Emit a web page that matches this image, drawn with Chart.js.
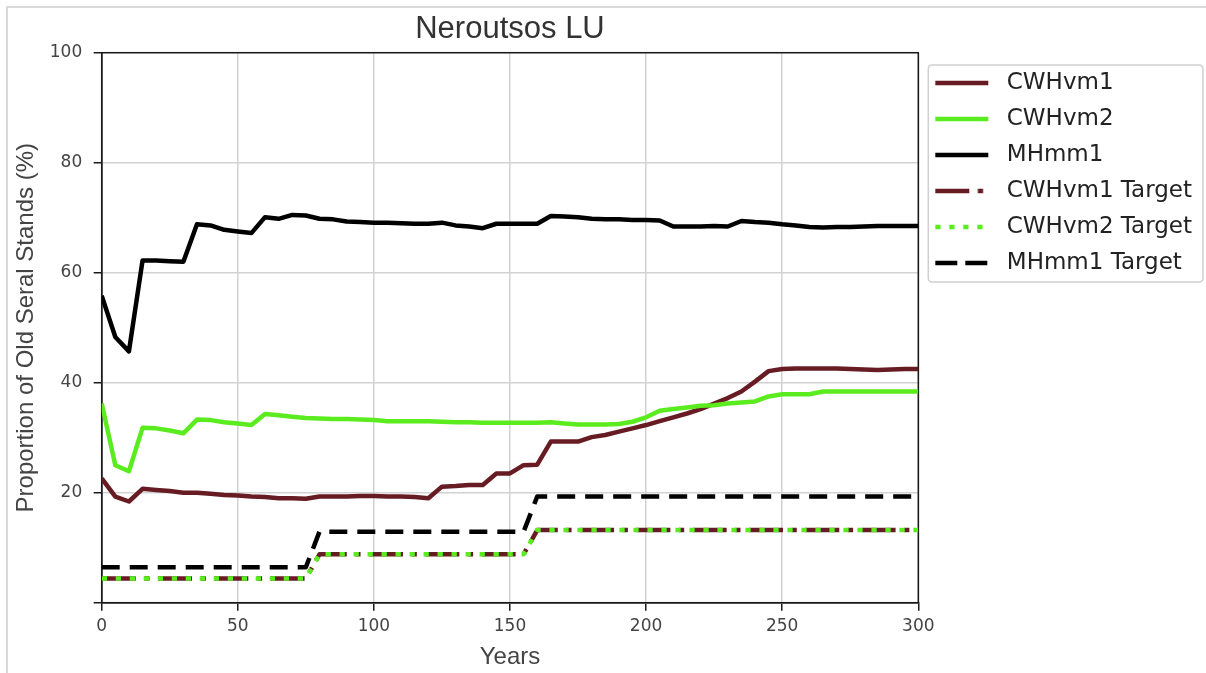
<!DOCTYPE html>
<html>
<head>
<meta charset="utf-8">
<script src="https://cdn.jsdelivr.net/npm/chart.js@4.4.1/dist/chart.umd.min.js"></script>
<style>
  html, body { margin: 0; padding: 0; background: #ffffff; overflow: hidden; }
  #wrap { position: relative; width: 1206px; height: 673px; }
  #frame { position: absolute; left: 6px; top: 6px; width: 1300px; height: 700px;
           border-left: 2px solid #dadada; border-top: 2px solid #dadada; pointer-events: none; }
</style>
</head>
<body>
<div id="wrap">
  <canvas id="chart" width="1206" height="673"></canvas>
  <div id="frame"></div>
</div>
<script>
// ---------------- data ----------------
const chartTitle = "Neroutsos LU";
const xAxisTitle = "Years";
const yAxisTitle = "Proportion of Old Seral Stands (%)";

const years = [0,5,10,15,20,25,30,35,40,45,50,55,60,65,70,75,80,85,90,95,100,
  105,110,115,120,125,130,135,140,145,150,155,160,165,170,175,180,185,190,195,200,
  205,210,215,220,225,230,235,240,245,250,255,260,265,270,275,280,285,290,295,300];

const seriesNames = ["CWHvm1", "CWHvm2", "MHmm1", "CWHvm1 Target", "CWHvm2 Target", "MHmm1 Target"];

const cwhvm1 = [22.6,19.3,18.4,20.7,20.5,20.3,20.0,20.0,19.8,19.6,19.5,19.3,19.2,19.0,19.0,18.9,19.3,19.3,19.3,19.4,19.4,
  19.3,19.3,19.2,19.0,21.1,21.2,21.4,21.4,23.5,23.5,25.0,25.1,29.3,29.3,29.3,30.1,30.5,31.1,31.7,32.3,
  33.0,33.7,34.4,35.2,36.2,37.2,38.4,40.2,42.1,42.5,42.6,42.6,42.6,42.6,42.5,42.4,42.3,42.4,42.5,42.5];

const cwhvm2 = [36.2,25.0,23.9,31.8,31.7,31.3,30.8,33.3,33.2,32.8,32.6,32.3,34.3,34.1,33.8,33.6,33.5,33.4,33.4,33.3,33.2,
  33.0,33.0,33.0,33.0,32.9,32.8,32.8,32.7,32.7,32.7,32.7,32.7,32.8,32.6,32.4,32.4,32.4,32.5,32.9,33.7,
  34.9,35.2,35.5,35.8,35.9,36.2,36.4,36.6,37.5,37.9,37.9,37.9,38.4,38.4,38.4,38.4,38.4,38.4,38.4,38.4];

const mhmm1 = [55.8,48.3,45.7,62.2,62.2,62.1,62.0,68.8,68.6,67.8,67.5,67.2,70.1,69.8,70.5,70.4,69.8,69.7,69.3,69.2,69.1,
  69.1,69.0,68.9,68.9,69.1,68.6,68.4,68.1,68.9,68.9,68.9,68.9,70.3,70.2,70.1,69.8,69.7,69.7,69.6,69.6,
  69.5,68.4,68.4,68.4,68.5,68.4,69.4,69.2,69.1,68.8,68.6,68.3,68.2,68.3,68.3,68.4,68.5,68.5,68.5,68.5];

const cwhvm1Target = [4.4,4.4,4.4,4.4,4.4,4.4,4.4,4.4,4.4,4.4,4.4,4.4,4.4,4.4,4.4,4.4,
  8.8,8.8,8.8,8.8,8.8,8.8,8.8,8.8,8.8,8.8,8.8,8.8,8.8,8.8,8.8,8.8,
  13.2,13.2,13.2,13.2,13.2,13.2,13.2,13.2,13.2,13.2,13.2,13.2,13.2,13.2,13.2,13.2,13.2,13.2,13.2,13.2,13.2,13.2,13.2,13.2,13.2,13.2,13.2,13.2,13.2];

const cwhvm2Target = [4.4,4.4,4.4,4.4,4.4,4.4,4.4,4.4,4.4,4.4,4.4,4.4,4.4,4.4,4.4,4.4,
  8.8,8.8,8.8,8.8,8.8,8.8,8.8,8.8,8.8,8.8,8.8,8.8,8.8,8.8,8.8,8.8,
  13.2,13.2,13.2,13.2,13.2,13.2,13.2,13.2,13.2,13.2,13.2,13.2,13.2,13.2,13.2,13.2,13.2,13.2,13.2,13.2,13.2,13.2,13.2,13.2,13.2,13.2,13.2,13.2,13.2];

const mhmm1Target = [6.45,6.45,6.45,6.45,6.45,6.45,6.45,6.45,6.45,6.45,6.45,6.45,6.45,6.45,6.45,6.45,
  12.9,12.9,12.9,12.9,12.9,12.9,12.9,12.9,12.9,12.9,12.9,12.9,12.9,12.9,12.9,12.9,
  19.3,19.3,19.3,19.3,19.3,19.3,19.3,19.3,19.3,19.3,19.3,19.3,19.3,19.3,19.3,19.3,19.3,19.3,19.3,19.3,19.3,19.3,19.3,19.3,19.3,19.3,19.3,19.3,19.3];

const xTicks = [0, 50, 100, 150, 200, 250, 300];
const yTicks = [20, 40, 60, 80, 100];

// ---------------- styles ----------------
const MAROON = "#661c22";
const GREEN = "#5aec1e";
const BLACK = "#000000";
const LW = 4.5;
const DASH_DASHED = [18, 10];
const DASH_DASHDOT = [34, 8.5, 5.3, 8.5];
const DASH_DOTTED = [5.3, 8.7];

function lineSample(color, dash, legendDash) {
  const c = document.createElement("canvas");
  c.width = 64; c.height = 10;
  const g = c.getContext("2d");
  g.strokeStyle = color;
  g.lineWidth = LW;
  g.lineCap = "butt";
  g.setLineDash(legendDash || dash || []);
  g.beginPath();
  g.moveTo(4, 5);
  g.lineTo(57, 5);
  g.stroke();
  return c;
}

const seriesValues = [cwhvm1, cwhvm2, mhmm1, cwhvm1Target, cwhvm2Target, mhmm1Target];
const seriesColors = [MAROON, GREEN, BLACK, MAROON, GREEN, BLACK];
const seriesDash = [[], [], [], DASH_DASHDOT, DASH_DOTTED, DASH_DASHED];
const legendDash = [[], [], [], DASH_DASHDOT, DASH_DOTTED, [22, 8]];

const datasets = seriesNames.map((name, i) => ({
  label: name,
  data: years.map((yr, j) => ({ x: yr, y: seriesValues[i][j] })),
  borderColor: seriesColors[i],
  backgroundColor: seriesColors[i],
  borderWidth: LW,
  borderDash: seriesDash[i],
  borderCapStyle: "butt",
  borderJoinStyle: "round",
  pointRadius: 0,
  pointHoverRadius: 0,
  pointStyle: lineSample(seriesColors[i], seriesDash[i], legendDash[i]),
  tension: 0,
  fill: false,
  order: seriesNames.length - i
}));

const framePlugin = {
  id: "framePlugin",
  beforeDraw(chart) {
    const ctx = chart.ctx;
    const lg = chart.legend;
    if (lg && lg.legendHitBoxes && lg.legendHitBoxes.length) {
      const hb = lg.legendHitBoxes;
      const x0 = hb[0].left - 3;
      const y0 = hb[0].top - 6.5;
      const y1 = hb[hb.length - 1].top + hb[hb.length - 1].height + 7.5;
      const x1 = 1203;
      const r = 4;
      ctx.save();
      ctx.fillStyle = "rgba(255,255,255,0.9)";
      ctx.strokeStyle = "#d0d0d0";
      ctx.lineWidth = 1.5;
      ctx.beginPath();
      ctx.moveTo(x0 + r, y0);
      ctx.lineTo(x1 - r, y0);
      ctx.quadraticCurveTo(x1, y0, x1, y0 + r);
      ctx.lineTo(x1, y1 - r);
      ctx.quadraticCurveTo(x1, y1, x1 - r, y1);
      ctx.lineTo(x0 + r, y1);
      ctx.quadraticCurveTo(x0, y1, x0, y1 - r);
      ctx.lineTo(x0, y0 + r);
      ctx.quadraticCurveTo(x0, y0, x0 + r, y0);
      ctx.closePath();
      ctx.fill();
      ctx.stroke();
      ctx.restore();
    }
  },
  beforeDatasetsDraw(chart) {
    const a = chart.chartArea;
    const ctx = chart.ctx;
    ctx.save();
    ctx.strokeStyle = "#1a1a1a";
    ctx.lineWidth = 1.5;
    ctx.strokeRect(a.left, a.top, a.right - a.left, a.bottom - a.top);
    ctx.restore();
  }
};

new Chart(document.getElementById("chart"), {
  type: "line",
  data: { datasets },
  plugins: [framePlugin],
  options: {
    responsive: false,
    animation: false,
    events: [],
    devicePixelRatio: 1,
    layout: { padding: { left: 0, right: 4, top: 0, bottom: 0 } },
    scales: {
      x: {
        type: "linear",
        min: 0, max: 300,
        afterFit(scale) { scale.height = 70.3; },
        afterBuildTicks(scale) { scale.ticks = xTicks.map(v => ({ value: v })); },
        grid: { color: "#d2d2d2", lineWidth: 1.5, drawTicks: true, tickLength: 8, tickColor: "#1a1a1a", tickWidth: 1.5 },
        border: { color: "#1a1a1a", width: 1.5 },
        ticks: { font: { family: "DejaVu Sans", size: 17 }, color: "#444444", padding: 6, maxRotation: 0 },
        title: { display: true, text: xAxisTitle, font: { family: "Liberation Sans", size: 24 }, color: "#444444", padding: { top: 0, bottom: 1 } }
      },
      y: {
        type: "linear",
        min: 0, max: 100,
        afterFit(scale) { scale.width = 101.7; },
        afterBuildTicks(scale) { scale.ticks = [0].concat(yTicks).map(v => ({ value: v })); },
        grid: { color: "#d2d2d2", lineWidth: 1.5, drawTicks: true, tickLength: 8, tickColor: "#1a1a1a", tickWidth: 1.5 },
        border: { color: "#1a1a1a", width: 1.5 },
        ticks: {
          font: { family: "DejaVu Sans", size: 17 }, color: "#444444", padding: 11.5,
          callback: (v) => (yTicks.includes(v) ? String(v) : "")
        },
        title: { display: true, text: yAxisTitle, font: { family: "Liberation Sans", size: 24 }, color: "#444444", padding: { top: 11.6, bottom: 0 } }
      }
    },
    plugins: {
      title: {
        display: true, text: chartTitle, fullSize: false,
        font: { family: "Liberation Sans", size: 31, weight: "normal" }, color: "#333333",
        padding: { top: 10.5, bottom: 5 }
      },
      legend: {
        display: true, position: "right", align: "start", fullSize: true,
        title: { display: true, text: "", font: { size: 1, lineHeight: 1 }, padding: { top: 57.5, bottom: 0 } },
        labels: {
          usePointStyle: true, pointStyleWidth: 64, padding: 13,
          font: { family: "DejaVu Sans", size: 23 }, color: "#222222",
          sort: (a, b) => a.datasetIndex - b.datasetIndex
        }
      },
      tooltip: { enabled: false }
    }
  }
});
</script>
</body>
</html>
